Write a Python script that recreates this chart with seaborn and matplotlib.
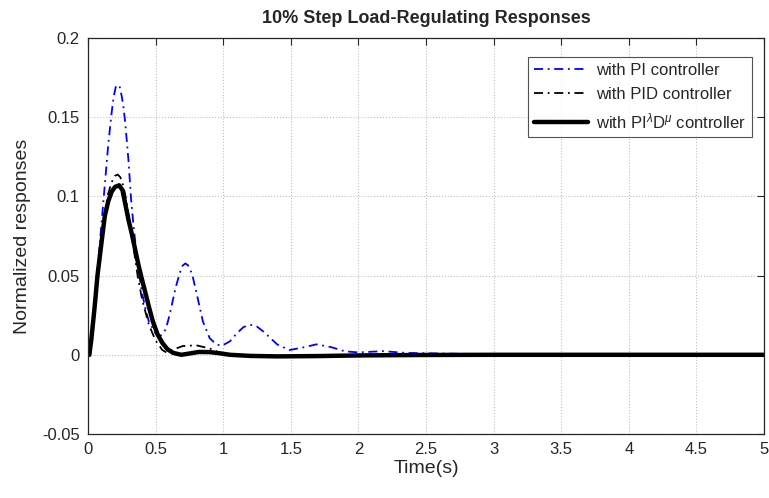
import numpy as np
import pandas as pd
import matplotlib
matplotlib.use("Agg")
import matplotlib.pyplot as plt
import seaborn as sns

# ---- data ----
t_pi = [0, 0.015, 0.025, 0.05, 0.075, 0.1, 0.125, 0.15, 0.175, 0.19, 0.205, 0.22, 0.235, 0.25,
        0.263, 0.276, 0.3, 0.318, 0.335, 0.35, 0.379, 0.4, 0.425, 0.45, 0.5, 0.535, 0.575,
        0.6, 0.65, 0.68, 0.7, 0.72, 0.74, 0.77, 0.8, 0.85, 0.9, 0.95, 0.99, 1.05, 1.1, 1.15,
        1.2, 1.25, 1.3, 1.4, 1.49, 1.6, 1.69, 1.8, 1.9, 2.0, 2.18, 2.35, 2.6, 3.0, 3.5, 5.0]
y_pi = [0, 0.0, 0.009, 0.034, 0.058, 0.083, 0.108, 0.133, 0.153, 0.163, 0.169, 0.1705, 0.169,
        0.163, 0.156, 0.146, 0.122, 0.099, 0.083, 0.071, 0.05, 0.039, 0.029, 0.021, 0.0135,
        0.0118, 0.016, 0.024, 0.043, 0.052, 0.0563, 0.0577, 0.0565, 0.051, 0.04, 0.021,
        0.0105, 0.0065, 0.0057, 0.0085, 0.0135, 0.0175, 0.019, 0.0178, 0.0145, 0.0065,
        0.003, 0.0048, 0.0066, 0.0048, 0.0022, 0.0015, 0.0023, 0.0012, 0.0008, 0.0003,
        0.0, 0.0]

t_pid = [0, 0.015, 0.025, 0.05, 0.075, 0.1, 0.125, 0.15, 0.175, 0.2, 0.22, 0.24, 0.26, 0.28,
         0.3, 0.325, 0.35, 0.367, 0.4, 0.45, 0.5, 0.55, 0.58, 0.62, 0.7, 0.8, 0.9, 0.97,
         1.05, 1.2, 1.5, 2.0, 2.5, 5.0]
y_pid = [0, 0.001, 0.01, 0.032, 0.053, 0.072, 0.09, 0.102, 0.109, 0.113, 0.1138, 0.112,
         0.107, 0.099, 0.088, 0.074, 0.06, 0.05, 0.035, 0.019, 0.009, 0.003, 0.0015, 0.003,
         0.0055, 0.006, 0.004, 0.0015, 0.0, -0.0008, -0.0006, -0.0002, 0.0, 0.0]

t_frac = [0, 0.01, 0.025, 0.05, 0.07, 0.1, 0.124, 0.15, 0.175, 0.2, 0.23, 0.255, 0.281, 0.3,
          0.325, 0.35, 0.375, 0.392, 0.425, 0.453, 0.48, 0.514, 0.55, 0.588, 0.63, 0.69,
          0.75, 0.82, 0.9, 0.97, 1.05, 1.2, 1.4, 1.7, 2.0, 2.5, 3.0, 5.0]
y_frac = [0, 0.0, 0.01, 0.031, 0.05, 0.071, 0.0875, 0.097, 0.103, 0.106, 0.107, 0.104,
          0.093, 0.085, 0.076, 0.066, 0.056, 0.05, 0.039, 0.0295, 0.021, 0.013, 0.0075,
          0.0035, 0.0012, 0.0, 0.0008, 0.0018, 0.0017, 0.001, 0.0, -0.0007, -0.001,
          -0.0008, -0.0004, -0.0001, 0.0, 0.0]

labels = ["with PI controller", "with PID controller",
          r"with PI$^{\lambda}$D$^{\mu}$ controller"]
x_ticks = [0, 0.5, 1, 1.5, 2, 2.5, 3, 3.5, 4, 4.5, 5]
y_ticks = [-0.05, 0, 0.05, 0.1, 0.15, 0.2]

sns.set_style("white")
plt.rcParams['font.family'] = ['Liberation Sans', 'DejaVu Sans']
plt.rcParams['mathtext.fontset'] = 'custom'
plt.rcParams['mathtext.rm'] = 'Liberation Sans'
plt.rcParams['mathtext.it'] = 'Liberation Sans:italic'

fig = plt.figure(figsize=(7.69, 4.98), dpi=100)
ax = fig.add_axes([88/769, 1-434/498, 676/769, 396/498])

df_pi = pd.DataFrame({"t": t_pi, "y": y_pi})
df_pid = pd.DataFrame({"t": t_pid, "y": y_pid})
df_frac = pd.DataFrame({"t": t_frac, "y": y_frac})

dashdot = (0, (5, 2.6, 1, 2.6))
sns.lineplot(data=df_pi, x="t", y="y", ax=ax, color=(0, 0, 1), lw=1.3,
             linestyle=dashdot, label=labels[0], sort=False)
sns.lineplot(data=df_pid, x="t", y="y", ax=ax, color='black', lw=1.3,
             linestyle=dashdot, label=labels[1], sort=False)
sns.lineplot(data=df_frac, x="t", y="y", ax=ax, color='black', lw=3.2,
             linestyle='-', label=labels[2], sort=False)
for ln in ax.get_lines():
    ln.set_solid_joinstyle('round')
    ln.set_dash_joinstyle('round')

ax.set_xlim(0, 5)
ax.set_ylim(-0.05, 0.2)
ax.set_xticks(x_ticks)
ax.set_xticklabels([f"{v:g}" for v in x_ticks])
ax.set_yticks(y_ticks)
ax.set_yticklabels([f"{v:g}" for v in y_ticks])
ax.grid(True, color='#c0c0c0', linestyle=':', linewidth=0.8)
ax.tick_params(direction='in', length=5, width=0.8, labelsize=12, colors='#262626',
               top=True, right=True, pad=6)
for s in ax.spines.values():
    s.set_visible(True)
    s.set_color('#262626')
    s.set_linewidth(0.9)

ax.set_xlabel("Time(s)", fontsize=14, color='#262626', labelpad=2)
ax.set_ylabel("Normalized responses", fontsize=14, color='#262626', labelpad=8)
ax.set_title("10% Step Load-Regulating Responses", fontsize=13, fontweight='bold',
             pad=11)

leg = ax.legend(loc='upper right', bbox_to_anchor=(0.982, 0.952), fontsize=12,
                frameon=True, fancybox=False, edgecolor='#262626', handlelength=3.2,
                borderpad=0.35, labelspacing=0.55, handletextpad=0.5, borderaxespad=0)
leg.get_frame().set_linewidth(0.8)

fig.savefig("out.png", dpi=100)
